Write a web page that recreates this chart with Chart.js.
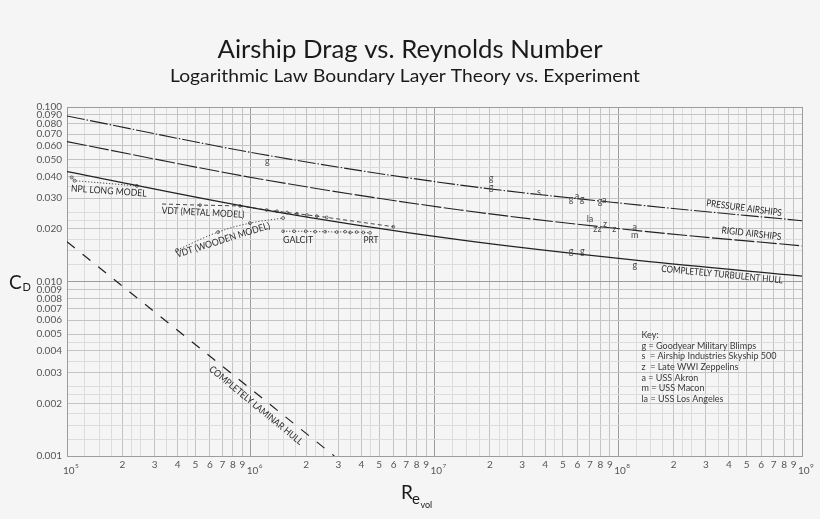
<!DOCTYPE html>
<html><head><meta charset="utf-8">
<script src="https://cdn.jsdelivr.net/npm/chart.js@4.4.1/dist/chart.umd.min.js"></script>
<style>html,body{margin:0;padding:0;background:#f5f5f5;}#wrap{width:820px;height:519px;position:relative;}</style>
</head><body><div id="wrap"><canvas id="c"></canvas></div>
<script>
const FONT = 'Lato, "Open Sans", "DejaVu Sans", sans-serif';
const titleText = 'Airship Drag vs. Reynolds Number';
const subtitleText = 'Logarithmic Law Boundary Layer Theory vs. Experiment';

// ---- theory curves ----
const theoryRe    = [1e5, 1.12e6, 1.38e7, 1.31e8, 1e9];
const pressureCd  = [0.0888, 0.0538, 0.0357, 0.0274, 0.0223];
const rigidCd     = [0.0633, 0.0387, 0.0257, 0.0195, 0.0160];
const turbulentCd = [0.0426, 0.0260, 0.0173, 0.01316, 0.01075];
const laminarRe   = [1e5, 2.85e6];
const laminarCd   = [0.0169, 0.001];

// ---- experiments ----
const nplRe = [1.06e5, 1.10e5, 1.6e5, 2.4e5];
const nplCd = [0.0395, 0.0378, 0.0366, 0.0353];
const vdtMetalRe = [3.29e5, 5.3e5, 8.74e5, 1.22e6, 1.39e6, 1.575e6, 1.785e6, 2.02e6, 2.29e6, 2.59e6, 5.97e6];
const vdtMetalCd = [0.0278, 0.0274, 0.0271, 0.0257, 0.02527, 0.02485, 0.02446, 0.02407, 0.0237, 0.0233, 0.0206];
const vdtWoodRe = [3.97e5, 6.64e5, 9.9e5, 1.5e6];
const vdtWoodCd = [0.01515, 0.0192, 0.0216, 0.0231];
const galcitRe = [1.50e6, 1.72e6, 1.99e6, 2.24e6, 2.54e6, 2.94e6, 3.26e6, 3.47e6, 3.77e6, 4.10e6, 4.46e6];
const galcitCd = [0.0194, 0.0194, 0.0194, 0.0193, 0.0193, 0.0192, 0.0193, 0.0191, 0.0192, 0.0191, 0.0190];

// ---- full-scale airship points (letter markers) ----
const goodyearRe = [1.23e6, 2.03e7, 2.03e7, 5.53e7, 6.35e7, 7.96e7, 5.53e7, 6.37e7, 1.23e8];
const goodyearCd = [0.0492, 0.0392, 0.0348, 0.0297, 0.0297, 0.0290, 0.01496, 0.01496, 0.01243];
const skyshipRe = [3.70e7];
const skyshipCd = [0.0326];
const zeppelinRe = [7.5e7, 7.9e7, 8.47e7, 9.52e7];
const zeppelinCd = [0.0199, 0.0199, 0.0213, 0.0199];
const akronRe = [5.96e7, 8.39e7, 1.23e8];
const akronCd = [0.0309, 0.0292, 0.0206];
const maconRe = [1.23e8];
const maconCd = [0.0185];
const losAngelesRe = [7.02e7];
const losAngelesCd = [0.0227];

// ---- axes / ticks ----
const gridMantissas = [1, 1.25, 1.5, 1.75, 2, 2.25, 2.5, 3, 3.5, 4, 4.5, 5, 6, 7, 8, 9];
const xDecades = [1e5, 1e6, 1e7, 1e8, 1e9];
const xDecadeExp = ['5', '6', '7', '8', '9'];
const xDigitLabels = ['2', '3', '4', '5', '6', '7', '8', '9'];
const yDecades = [0.001, 0.01, 0.1];
const yTickValues = [0.1, 0.09, 0.08, 0.07, 0.06, 0.05, 0.04, 0.03, 0.02, 0.01, 0.009, 0.008, 0.007, 0.006, 0.005, 0.004, 0.003, 0.002, 0.001];
const yTickLabels = ['0.100', '0.090', '0.080', '0.070', '0.060', '0.050', '0.040', '0.030', '0.020', '0.010', '0.009', '0.008', '0.007', '0.006', '0.005', '0.004', '0.003', '0.002', '0.001'];

const keyLines = ['Key:', 'g = Goodyear Military Blimps', 's  = Airship Industries Skyship 500', 'z  = Late WWI Zeppelins', 'a = USS Akron', 'm = USS Macon', 'la = USS Los Angeles'];

const curveLabels = [
  {text: 'PRESSURE AIRSHIPS', re: 4.84e8, cd: 0.02637, angle: 7.5, w: 76},
  {text: 'RIGID AIRSHIPS', re: 5.31e8, cd: 0.01884, angle: 6.5, w: 60},
  {text: 'COMPLETELY TURBULENT HULL', re: 3.67e8, cd: 0.01097, angle: 5.5, w: 122},
  {text: 'COMPLETELY LAMINAR HULL', re: 1.068e6, cd: 0.001948, angle: 39.5, w: 118},
  {text: 'NPL LONG MODEL', re: 1.69e5, cd: 0.0330, angle: 4, w: 76},
  {text: 'VDT (METAL MODEL)', re: 5.5e5, cd: 0.02485, angle: 3, w: 83},
  {text: 'VDT (WOODEN MODEL)', re: 7.06e5, cd: 0.01729, angle: -17.5, w: 98},
  {text: 'GALCIT', re: 1.81e6, cd: 0.01729, angle: 0, w: 30},
  {text: 'PRT', re: 4.51e6, cd: 0.01729, angle: 0, w: 15}
];

function pts(xs, ys) { return xs.map((x, i) => ({x: x, y: ys[i]})); }
function buildGrid(decades) {
  const out = [];
  decades.forEach((d, i) => {
    if (i === decades.length - 1) { out.push(d); return; }
    gridMantissas.forEach(m => out.push(+(d * m).toPrecision(6)));
  });
  return out;
}
function mantissa(v) {
  const e = Math.floor(Math.log10(v) + 1e-9);
  return +(v / Math.pow(10, e)).toPrecision(6);
}
function gridColor(ctx) {
  if (!ctx.tick) return '#ccc';
  const m = mantissa(ctx.tick.value);
  if (m === 1) return '#9c9c9c';
  if (Number.isInteger(m)) return '#c4c4c4';
  return '#dcdcdc';
}
const xGrid = buildGrid(xDecades);
const yGrid = buildGrid(yDecades);

const lineBase = {showLine: true, pointRadius: 0, borderColor: '#222', backgroundColor: '#222', fill: false};
const expBase = {showLine: true, borderColor: '#333', borderWidth: 0.9, pointStyle: 'circle',
  pointBackgroundColor: 'rgba(0,0,0,0)', pointBorderColor: '#333', pointBorderWidth: 0.7, fill: false};
const letterBase = {showLine: false, pointRadius: 0};

const datasets = [
  Object.assign({}, lineBase, {label: 'Pressure', data: pts(theoryRe, pressureCd), borderWidth: 1.1, borderDash: [18, 2, 1.5, 2], cubicInterpolationMode: 'monotone'}),
  Object.assign({}, lineBase, {label: 'Rigid', data: pts(theoryRe, rigidCd), borderWidth: 1.1, borderDash: [20, 2.5], cubicInterpolationMode: 'monotone'}),
  Object.assign({}, lineBase, {label: 'Turbulent', data: pts(theoryRe, turbulentCd), borderWidth: 1.25, cubicInterpolationMode: 'monotone'}),
  Object.assign({}, lineBase, {label: 'Laminar', data: pts(laminarRe, laminarCd), borderWidth: 1.2, borderDash: [10, 10]}),
  Object.assign({}, expBase, {label: 'NPL', data: pts(nplRe, nplCd), borderDash: [1.2, 1.8], pointRadius: [1.5, 1.5, 0, 1.5]}),
  Object.assign({}, expBase, {label: 'VDT metal', data: pts(vdtMetalRe, vdtMetalCd), borderDash: [4, 3], pointRadius: c => (c.dataIndex === 0 ? 0 : 1.4)}),
  Object.assign({}, expBase, {label: 'VDT wood', data: pts(vdtWoodRe, vdtWoodCd), borderDash: [1.2, 2], tension: 0.4, pointRadius: 1.5}),
  Object.assign({}, expBase, {label: 'GALCIT', data: pts(galcitRe, galcitCd), borderDash: [1.2, 1.8], pointRadius: 1.4}),
  Object.assign({}, letterBase, {label: 'g', letter: 'g', data: pts(goodyearRe, goodyearCd)}),
  Object.assign({}, letterBase, {label: 's', letter: 's', data: pts(skyshipRe, skyshipCd)}),
  Object.assign({}, letterBase, {label: 'z', letter: 'z', data: pts(zeppelinRe, zeppelinCd)}),
  Object.assign({}, letterBase, {label: 'a', letter: 'a', data: pts(akronRe, akronCd)}),
  Object.assign({}, letterBase, {label: 'm', letter: 'm', data: pts(maconRe, maconCd)}),
  Object.assign({}, letterBase, {label: 'la', letter: 'la', data: pts(losAngelesRe, losAngelesCd)})
];

function fitText(ctx, text, x, y, size, width, angleDeg, color) {
  ctx.save();
  ctx.font = size + 'px ' + FONT;
  const w = ctx.measureText(text).width;
  ctx.translate(x, y);
  ctx.rotate(angleDeg * Math.PI / 180);
  ctx.scale(width / w, 1);
  ctx.fillStyle = color;
  ctx.textAlign = 'center';
  ctx.textBaseline = 'middle';
  ctx.fillText(text, 0, 0);
  ctx.restore();
}

const decorPlugin = {
  id: 'decor',
  afterDatasetsDraw(chart) {
    const ctx = chart.ctx, xs = chart.scales.x, ys = chart.scales.y;
    // letter markers
    chart.data.datasets.forEach((ds, i) => {
      if (!ds.letter) return;
      const meta = chart.getDatasetMeta(i);
      ctx.save();
      ctx.font = '9px ' + FONT;
      ctx.fillStyle = '#4a4a4a';
      ctx.textAlign = 'center';
      ctx.textBaseline = 'middle';
      meta.data.forEach(el => ctx.fillText(ds.letter, el.x, el.y));
      ctx.restore();
    });
    // curve labels
    curveLabels.forEach(l => {
      fitText(ctx, l.text, xs.getPixelForValue(l.re), ys.getPixelForValue(l.cd), 9.5, l.w, l.angle, '#2a2a2a');
    });
  },
  afterDraw(chart) {
    const ctx = chart.ctx, xs = chart.scales.x;
    // titles
    fitText(ctx, titleText, 410, 50, 25, 385, 0, '#1a1a1a');
    fitText(ctx, subtitleText, 405, 76, 17.5, 470, 0, '#1a1a1a');
    // decade labels 10^n
    ctx.save();
    ctx.fillStyle = '#555';
    ctx.textBaseline = 'alphabetic';
    ctx.textAlign = 'left';
    xDecades.forEach((d, i) => {
      const px = xs.getPixelForValue(d);
      ctx.font = '10px ' + FONT;
      ctx.fillText('10', px - 4, 474);
      const w = ctx.measureText('10').width;
      ctx.font = '6.5px ' + FONT;
      ctx.fillText(xDecadeExp[i], px - 4 + w + 0.5, 468);
    });
    ctx.restore();
    // axis titles
    ctx.save();
    ctx.fillStyle = '#1a1a1a';
    ctx.textAlign = 'left';
    ctx.textBaseline = 'alphabetic';
    ctx.font = '19px ' + FONT;
    ctx.fillText('C', 9, 288.5);
    ctx.font = '11px ' + FONT;
    ctx.fillText('D', 22.5, 291);
    ctx.font = '19px ' + FONT;
    ctx.fillText('R', 401, 499);
    ctx.font = '15px ' + FONT;
    ctx.fillText('e', 412, 504);
    ctx.font = '9px ' + FONT;
    ctx.fillText('vol', 420.5, 507.5);
    ctx.restore();
    // key
    ctx.save();
    ctx.fillStyle = '#3a3a3a';
    ctx.font = '9px ' + FONT;
    ctx.textAlign = 'left';
    ctx.textBaseline = 'middle';
    keyLines.forEach((t, i) => ctx.fillText(t, 641.5, 335 + i * 10.7));
    ctx.restore();
  }
};

new Chart(document.getElementById('c'), {
  type: 'scatter',
  data: {datasets: datasets},
  plugins: [decorPlugin],
  options: {
    responsive: true,
    maintainAspectRatio: false,
    animation: false,
    events: [],
    layout: {padding: {top: 107, right: 18, left: 0, bottom: 0}},
    plugins: {legend: {display: false}, tooltip: {enabled: false}, title: {display: false}},
    scales: {
      x: {
        type: 'logarithmic', min: 1e5, max: 1e9,
        afterBuildTicks: s => { s.ticks = xGrid.map(v => ({value: v})); },
        afterFit: s => { s.height = 63; },
        grid: {color: gridColor, lineWidth: 1, drawTicks: false},
        border: {display: true, color: '#9c9c9c'},
        ticks: {
          autoSkip: false, maxRotation: 0, padding: 3, color: '#555',
          font: {size: 10, family: FONT},
          callback: v => { const m = mantissa(v); return (Number.isInteger(m) && m >= 2) ? xDigitLabels[m - 2] : ''; }
        }
      },
      y: {
        type: 'logarithmic', min: 0.001, max: 0.1,
        afterBuildTicks: s => { s.ticks = yGrid.map(v => ({value: v})); },
        afterFit: s => { s.width = 67; },
        grid: {color: gridColor, lineWidth: 1, drawTicks: false},
        border: {display: true, color: '#9c9c9c'},
        ticks: {
          autoSkip: false, padding: 5, color: '#555',
          font: {size: 10, family: FONT},
          callback: v => {
            const i = yTickValues.findIndex(t => Math.abs(t - v) / t < 1e-6);
            return i >= 0 ? yTickLabels[i] : '';
          }
        }
      }
    }
  }
});
</script></body></html>
